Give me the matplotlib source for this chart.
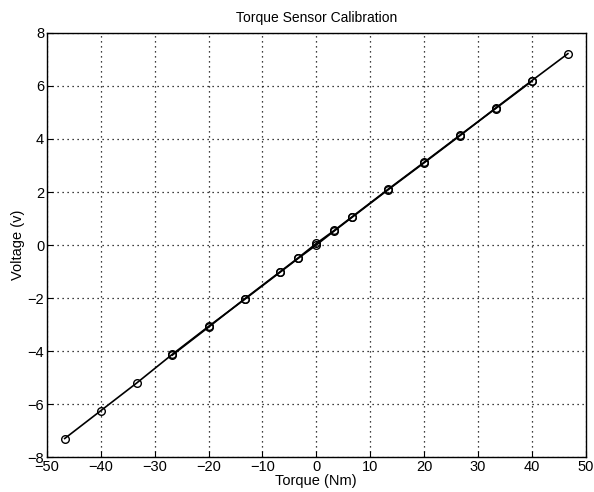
import matplotlib
matplotlib.use("Agg")
import matplotlib.pyplot as plt

plt.rcParams['font.family'] = ['Liberation Sans', 'DejaVu Sans']

# Calibration data: loading sweep (full range) and unloading sweep (inner points)
torque_up = [-46.7, -40.0, -33.3, -26.7, -20.0, -13.3, -6.67, -3.33, 0.0,
             3.33, 6.67, 13.3, 20.0, 26.7, 33.3, 40.0, 46.7]
voltage_up = [-7.30, -6.25, -5.20, -4.12, -3.07, -2.05, -1.02, -0.50, 0.00,
              0.53, 1.05, 2.08, 3.10, 4.13, 5.17, 6.20, 7.22]

torque_down = [40.0, 33.3, 26.7, 20.0, 13.3, 6.67, 3.33, 0.0,
               -3.33, -6.67, -13.3, -20.0, -26.7]
voltage_down = [6.18, 5.15, 4.15, 3.12, 2.10, 1.07, 0.55, 0.06,
                -0.48, -1.00, -2.03, -3.10, -4.15]

fig = plt.figure(figsize=(5.94, 4.92), dpi=100)
ax = fig.add_axes([0.079, 0.071, 0.907, 0.862])

ax.plot(torque_up, voltage_up, color='black', linewidth=1.2,
        marker='o', markersize=5.5, markerfacecolor='none', markeredgewidth=1.0)
ax.plot(torque_down, voltage_down, color='black', linewidth=1.2,
        marker='o', markersize=5.5, markerfacecolor='none', markeredgewidth=1.0)

ax.set_xlim(-50, 50)
ax.set_ylim(-8, 8)
ax.set_xticks(range(-50, 51, 10))
ax.set_yticks(range(-8, 9, 2))
ax.grid(True, color='black', linestyle=(0, (1, 3)), linewidth=0.9)
ax.tick_params(direction='in', length=4, labelsize=10.5, colors='black', pad=2)
for s in ax.spines.values():
    s.set_linewidth(1.0)

ax.set_title("Torque Sensor Calibration", fontsize=10, pad=8)
ax.set_xlabel("Torque (Nm)", fontsize=10.5, labelpad=0)
ax.set_ylabel("Voltage (v)", fontsize=10.5, labelpad=2)

fig.savefig("out.png", dpi=100)
